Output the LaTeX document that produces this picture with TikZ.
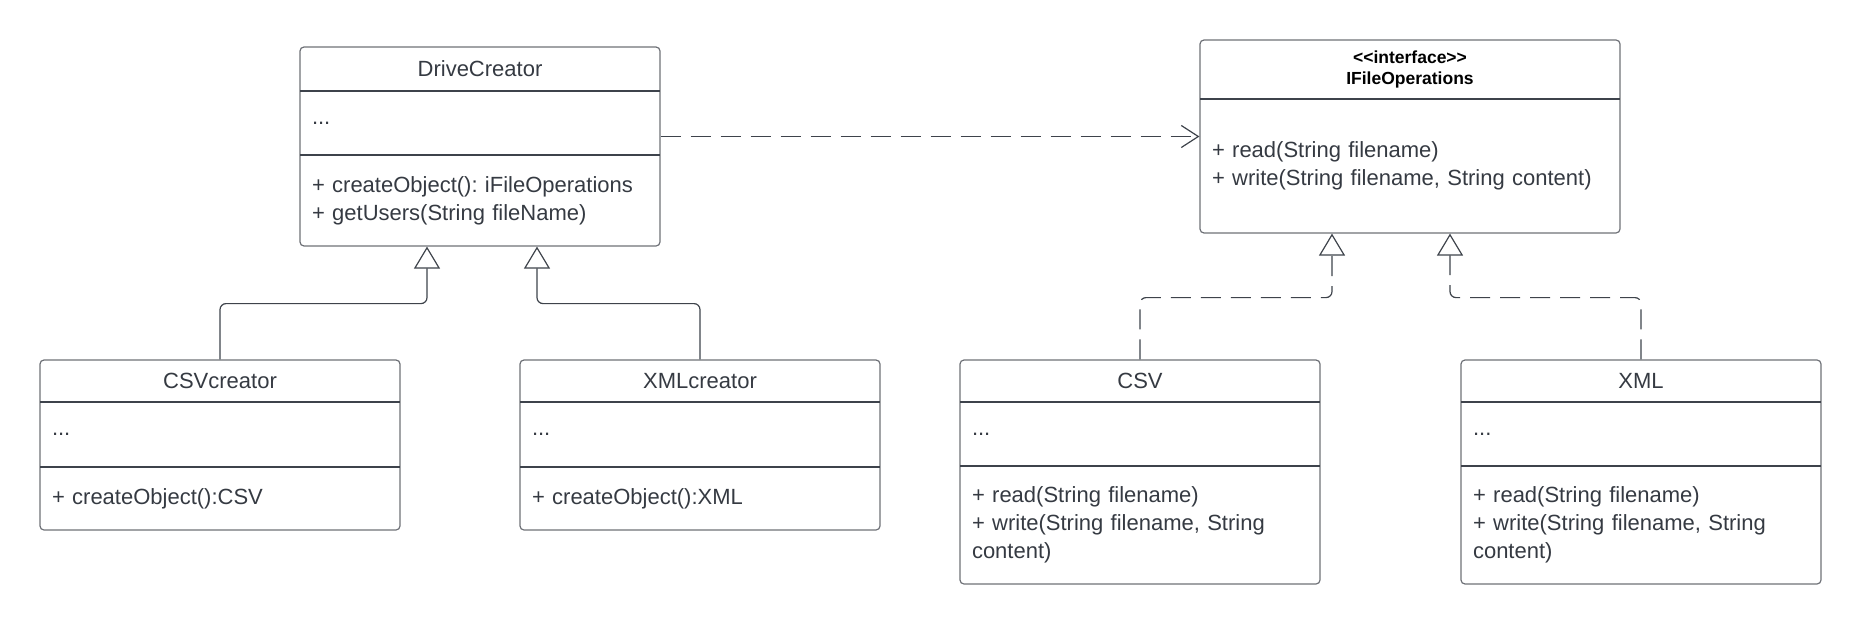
\documentclass[tikz,border=0pt]{standalone}
\usepackage{fontspec}
\setmainfont{Liberation Sans}
\usepackage{xcolor}
\usepackage{tikz}
\usetikzlibrary{calc, positioning, arrows.meta, fit}
\frenchspacing
\definecolor{boxgray}{HTML}{6E7177}
\definecolor{linegray}{HTML}{3E434B}
\definecolor{textgray}{HTML}{353A42}
\newcommand{\umltext}{\fontsize{22}{28}\selectfont}
\newcommand{\umlstereo}{\fontsize{17.5}{21}\selectfont\bfseries}
\tikzset{
    umlhead/.style={rectangle, minimum height=42pt, text width=336pt, inner xsep=12pt, inner ysep=0pt, outer sep=0pt, align=center, font=\umltext, text=textgray},
    umlpart/.style={rectangle, text width=336pt, inner xsep=12pt, inner ysep=0pt, outer sep=0pt, align=left, font=\umltext, text=textgray},
    umlbox/.style={rectangle, draw=boxgray, line width=1.2pt, rounded corners=4pt, inner sep=0pt},
    divider/.style={draw=linegray, line width=1.2pt},
    gen/.style={-{Triangle[open, length=22pt, width=26pt]}, draw=linegray, line width=1.2pt, rounded corners=6pt},
    real/.style={gen, dash pattern=on 20pt off 10pt},
    dep/.style={-{Straight Barb[length=17pt, width=22pt]}, draw=linegray, line width=1.2pt, dash pattern=on 20pt off 10pt}
}
\begin{document}
\begin{tikzpicture}[x=1pt, y=-1pt]
        \useasboundingbox (0,0) rectangle (1860,624);

        % DriveCreator
        \node[umlhead, minimum height=44pt] (DriveHead) at (480,69) {DriveCreator};
        \node[umlpart, minimum height=64pt, below=0pt of DriveHead] (DriveAttr) {...};
        \node[umlpart, minimum height=91pt, below=0pt of DriveAttr] (DriveOps) {+ createObject(): iFileOperations\\+ getUsers(String fileName)};
        \node[umlbox, fit=(DriveHead)(DriveOps)] (Drive) {};

        % CSVcreator
        \node[umlhead] (CsvCreatorHead) at (220,381) {CSVcreator};
        \node[umlpart, minimum height=65pt, below=0pt of CsvCreatorHead] (CsvCreatorAttr) {...};
        \node[umlpart, minimum height=63pt, below=0pt of CsvCreatorAttr] (CsvCreatorOps) {+ createObject():CSV};
        \node[umlbox, fit=(CsvCreatorHead)(CsvCreatorOps)] (CsvCreator) {};

        % XMLcreator
        \node[umlhead] (XmlCreatorHead) at (700,381) {XMLcreator};
        \node[umlpart, minimum height=65pt, below=0pt of XmlCreatorHead] (XmlCreatorAttr) {...};
        \node[umlpart, minimum height=63pt, below=0pt of XmlCreatorAttr] (XmlCreatorOps) {+ createObject():XML};
        \node[umlbox, fit=(XmlCreatorHead)(XmlCreatorOps)] (XmlCreator) {};

        % IFileOperations
        \node[umlhead, minimum height=59pt, text width=396pt, font=\umlstereo, text=black] (FileOpsHead) at (1410,69.5) {{<}{<}interface{>}{>}\\IFileOperations};
        \node[umlpart, minimum height=134pt, text width=396pt, below=0pt of FileOpsHead] (FileOpsOps) {+ read(String filename)\\+ write(String filename, String content)};
        \node[umlbox, fit=(FileOpsHead)(FileOpsOps)] (FileOps) {};

        % CSV
        \node[umlhead] (CsvHead) at (1140,381) {CSV};
        \node[umlpart, minimum height=64pt, below=0pt of CsvHead] (CsvAttr) {...};
        \node[umlpart, minimum height=118pt, below=0pt of CsvAttr] (CsvOps) {+ read(String filename)\\+ write(String filename, String\\content)};
        \node[umlbox, fit=(CsvHead)(CsvOps)] (Csv) {};

        % XML
        \node[umlhead] (XmlHead) at (1641,381) {XML};
        \node[umlpart, minimum height=64pt, below=0pt of XmlHead] (XmlAttr) {...};
        \node[umlpart, minimum height=118pt, below=0pt of XmlAttr] (XmlOps) {+ read(String filename)\\+ write(String filename, String\\content)};
        \node[umlbox, fit=(XmlHead)(XmlOps)] (Xml) {};

        % compartment lines
        \foreach \part in {DriveAttr, DriveOps, CsvCreatorAttr, CsvCreatorOps, XmlCreatorAttr, XmlCreatorOps, FileOpsOps, CsvAttr, CsvOps, XmlAttr, XmlOps}
            \draw[divider] (\part.north west) -- (\part.north east);

        % inheritance
        \draw[gen] (CsvCreator.north) |- ([xshift=-53pt, yshift=-57pt]Drive.south) -- ([xshift=-53pt]Drive.south);
        \draw[gen] (XmlCreator.north) |- ([xshift=57pt, yshift=-57pt]Drive.south) -- ([xshift=57pt]Drive.south);

        % realization
        \draw[real] (Csv.north) |- ([xshift=-78pt, yshift=-64pt]FileOps.south) -- ([xshift=-78pt]FileOps.south);
        \draw[real] (Xml.north) |- ([xshift=40pt, yshift=-64pt]FileOps.south) -- ([xshift=40pt]FileOps.south);

        % dependency
        \draw[dep] (Drive.east |- FileOps.west) -- (FileOps.west);
    \end{tikzpicture}
\end{document}
